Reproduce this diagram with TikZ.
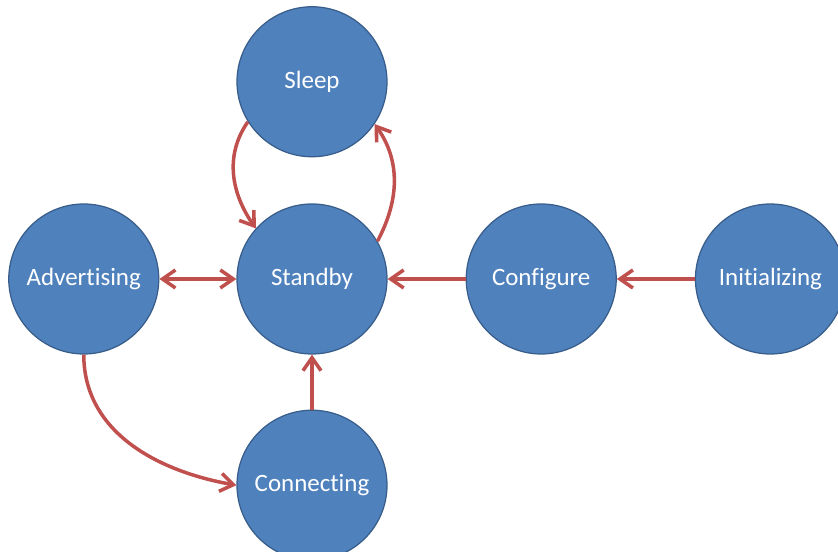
\documentclass[tikz,border=0pt]{standalone}
\usepackage{fontspec}
\setmainfont[Ligatures=NoCommon]{Carlito}
\usetikzlibrary{arrows.meta,positioning}
\definecolor{statefill}{RGB}{79,129,189}
\definecolor{stateborder}{RGB}{56,93,138}
\definecolor{statered}{RGB}{192,80,77}
\tikzset{
    statenode/.style={circle, draw=stateborder, line width=0.7pt, fill=statefill,
        minimum size=3cm, inner sep=0pt, text=white,
        font=\fontsize{14.2}{17}\selectfont},
    statearrow/.style={-{Straight Barb[length=2.6mm,width=3.6mm]},
        line width=2pt, draw=statered},
    stateboth/.style={{Straight Barb[length=2.6mm,width=3.6mm]}-{Straight Barb[length=2.6mm,width=3.6mm]},
        line width=2pt, draw=statered}
}
\begin{document}
\begin{tikzpicture}[node distance=10mm and 15.6mm]
        \useasboundingbox (-6.24,-5.46) rectangle (10.52,5.58);

        \node[statenode] (standby) at (0,0) {Standby};
        \node[statenode, above=9.2mm of standby] (sleep) {Sleep};
        \node[statenode, left=15.4mm of standby] (advertising) {Advertising};
        \node[statenode, right=of standby] (configure) {Configure};
        \node[statenode, right=of configure] (initializing) {Initializing};
        \node[statenode, below=11mm of standby] (connecting) {Connecting};

        \draw[statearrow] (sleep.212) to[out=235, in=125] (standby.138);
        \draw[statearrow] (standby.30) to[out=62, in=-55] (sleep.-34);
        \draw[stateboth] (advertising) -- (standby);
        \draw[statearrow] (configure) -- (standby);
        \draw[statearrow] (initializing) -- (configure);
        \draw[statearrow] (connecting) -- (standby);
        \draw[statearrow] (advertising.south) to[out=-90, in=170] (connecting.west);
    \end{tikzpicture}
\end{document}
